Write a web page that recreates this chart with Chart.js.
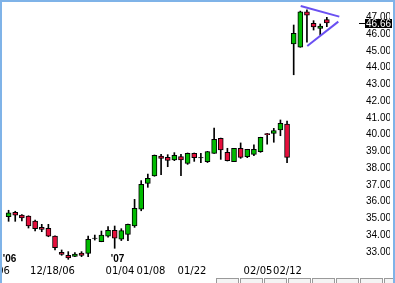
<!DOCTYPE html>
<html lang="en">
<head>
<meta charset="UTF-8">
<title>Candlestick chart</title>
<script src="https://cdn.jsdelivr.net/npm/chart.js"></script>
<style>
  body { margin: 0; background: #fff; }
  #wrap { position: relative; width: 395px; height: 283px; }
</style>
</head>
<body>
<div id="wrap"><canvas id="chart" width="395" height="283"></canvas></div>
<script>
// one candle per trading session, index 0 = leftmost
const opens = [35.10, 35.36, 35.20, 35.14, 34.84, 34.46, 34.40, 33.94, 32.97, 32.79,
  32.73, 32.93, 32.91, 33.82, 33.60, 33.93, 34.28, 33.75, 34.04, 34.54,
  35.54, 37.09, 37.53, 38.72, 38.64, 38.48, 38.68, 38.28, 38.88, 38.63,
  38.38, 38.88, 39.78, 38.94, 38.38, 39.18, 38.68, 38.82, 38.98, 40.06,
  40.07, 40.27, 40.63, 45.41, 45.21, 47.33, 46.64, 46.34, 46.86];
const closes = [35.32, 35.18, 35.02, 34.54, 34.38, 34.34, 33.93, 33.24, 32.85, 32.63,
  32.87, 32.79, 33.75, 33.80, 34.00, 34.28, 33.81, 34.26, 34.64, 35.60,
  37.03, 37.39, 38.76, 38.58, 38.46, 38.76, 38.48, 38.88, 38.62, 38.61,
  38.98, 39.72, 39.08, 38.44, 39.18, 38.64, 39.12, 39.12, 39.84, 40.00,
  40.23, 40.67, 38.64, 46.04, 47.33, 47.12, 46.42, 46.48, 46.66];
const highs = [35.48, 35.42, 35.22, 35.15, 34.90, 34.64, 34.64, 33.95, 33.11, 33.01,
  32.95, 33.01, 33.94, 34.00, 34.24, 34.50, 34.54, 34.38, 34.65, 36.13,
  37.25, 37.64, 38.78, 38.82, 38.80, 38.92, 38.82, 38.90, 38.90, 38.88,
  39.00, 40.39, 39.79, 39.18, 39.18, 39.50, 39.12, 39.38, 39.84, 40.07,
  40.37, 40.87, 40.81, 46.54, 47.37, 47.44, 46.80, 46.60, 47.00];
const lows = [34.82, 34.82, 34.84, 34.42, 34.24, 34.20, 33.90, 33.11, 32.79, 32.55,
  32.71, 32.71, 32.71, 33.70, 33.60, 33.87, 33.21, 33.67, 33.67, 34.46,
  35.45, 36.85, 37.51, 37.60, 38.08, 38.44, 37.54, 38.22, 38.40, 38.32,
  38.33, 38.87, 38.52, 38.42, 38.38, 38.58, 38.62, 38.74, 38.94, 39.42,
  39.54, 39.93, 38.32, 43.57, 45.21, 45.51, 46.24, 45.94, 46.44];

const dateTickPos = [-3.18, 6.62, 16.8, 21.48, 27.66, 37.62, 42.07];
const dateTickLabels = ["12/11/06", "12/18/06", "01/04", "01/08", "01/22", "02/05", "02/12"];
const yearTickPos = [0.14, 16.43];
const yearTickLabels = ["'06", "'07"];
const priceTicks = [33, 34, 35, 36, 37, 38, 39, 40, 41, 42, 43, 44, 45, 46, 47];
const lastPrice = 46.66;

// pennant drawn on the chart
const upperTrend = [{x: 44.06, y: 47.67}, {x: 49.88, y: 47.04}];
const lowerTrend = [{x: 45.05, y: 45.29}, {x: 49.73, y: 46.74}];

const xMin = -0.845, xMax = 50.74;
const yMin = 32.869, yMax = 47.854;

const GREEN = "#00bb00";
const RED = "#e60f3c";

const idx = opens.map((_, i) => i);
const bodyColors = idx.map(i => {
  const d = closes[i] - opens[i];
  if (Math.abs(d) < 0.03) return "#000";
  return d > 0 ? GREEN : RED;
});

const noPadX = s => { s.paddingLeft = 0; s.paddingRight = 0; };

const frame = {
  id: "frame",
  afterDraw(chart) {
    const ctx = chart.ctx;
    const y = Math.round(chart.scales.y.getPixelForValue(lastPrice));
    ctx.save();
    // last price marker
    ctx.fillStyle = "#000";
    ctx.fillRect(359, y, 6, 1);
    ctx.fillRect(365, y - 4, 27, 9);
    ctx.fillStyle = "#fff";
    ctx.font = '10px "Liberation Sans"';
    ctx.textBaseline = "middle";
    ctx.fillText(lastPrice.toFixed(2), 366, y + 1);
    // little button strip at the bottom
    for (let x = 216; x < 390; x += 24) {
      ctx.fillStyle = "#f4f4f4";
      ctx.fillRect(x, 278, 23, 5);
      ctx.strokeStyle = "#9a9a9a";
      ctx.strokeRect(x + 0.5, 278.5, 22, 6);
    }
    // window frame
    ctx.fillStyle = "#7fb3e8";
    ctx.fillRect(0, 0, 2, 283);
    ctx.fillRect(0, 0, 395, 2);
    ctx.fillRect(393, 0, 2, 283);
    ctx.restore();
  }
};

new Chart(document.getElementById("chart"), {
  type: "bar",
  data: {
    datasets: [
      {
        type: "line",
        data: upperTrend,
        borderColor: "#6a50f2",
        borderWidth: 2,
        pointRadius: 0,
        order: 1,
        clip: false
      },
      {
        type: "line",
        data: lowerTrend,
        borderColor: "#6a50f2",
        borderWidth: 2,
        pointRadius: 0,
        order: 1,
        clip: false
      },
      {
        data: idx.map(i => ({x: i, y: [opens[i], closes[i]]})),
        backgroundColor: bodyColors,
        borderColor: "#000",
        borderWidth: 1,
        borderSkipped: false,
        barThickness: 5,
        grouped: false,
        order: 2,
        clip: false
      },
      {
        data: idx.map(i => ({x: i, y: [lows[i], highs[i]]})),
        backgroundColor: "#000",
        borderWidth: 0,
        barThickness: 1,
        grouped: false,
        order: 3,
        clip: false
      }
    ]
  },
  options: {
    responsive: false,
    animation: false,
    layout: { padding: { left: 3, top: 3, right: 5, bottom: 0 } },
    plugins: { legend: { display: false }, tooltip: { enabled: false } },
    scales: {
      x: {
        type: "linear",
        position: "bottom",
        weight: 1,
        min: xMin,
        max: xMax,
        offset: false,
        grid: { display: false, drawTicks: false },
        border: { display: false },
        afterBuildTicks: s => { s.ticks = dateTickPos.map(v => ({value: v})); },
        afterFit: s => { s.height = 20; noPadX(s); },
        ticks: {
          autoSkip: false,
          maxRotation: 0,
          padding: 2.5,
          color: "#000",
          font: { family: "DejaVu Sans", size: 10 },
          callback: (v, i) => dateTickLabels[i]
        }
      },
      years: {
        type: "linear",
        position: "bottom",
        weight: 0,
        min: xMin,
        max: xMax,
        offset: false,
        grid: { display: false, drawTicks: false },
        border: { display: false },
        afterBuildTicks: s => { s.ticks = yearTickPos.map(v => ({value: v})); },
        afterFit: s => { s.height = 9; noPadX(s); },
        ticks: {
          autoSkip: false,
          maxRotation: 0,
          padding: -1,
          color: "#000",
          font: { family: "Liberation Sans", size: 10, weight: "bold" },
          callback: (v, i) => yearTickLabels[i]
        }
      },
      y: {
        type: "linear",
        position: "right",
        min: yMin,
        max: yMax,
        grid: { display: false, drawTicks: false },
        border: { display: false },
        afterBuildTicks: s => { s.ticks = priceTicks.map(v => ({value: v})); },
        afterFit: s => { s.width = 45; s.paddingTop = 0; s.paddingBottom = 0; },
        ticks: {
          padding: 21,
          color: "#000",
          font: { family: "Liberation Sans", size: 10 },
          callback: v => v.toFixed(2)
        }
      }
    }
  },
  plugins: [frame]
});
</script>
</body>
</html>
